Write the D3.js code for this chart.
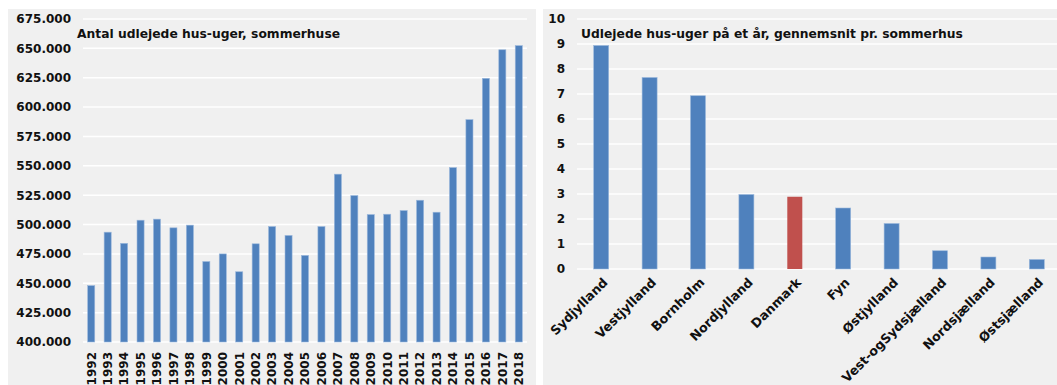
<!DOCTYPE html>
<html>
<head>
<meta charset="utf-8">
<script src="https://cdn.jsdelivr.net/npm/d3@7"></script>
<style>
  body { margin: 0; background: #ffffff; }
  svg text { font-family: "DejaVu Sans", Verdana, sans-serif; font-weight: bold; fill: #111; }
</style>
</head>
<body>
<div class="container"></div>
<script>
// left chart: rented house-weeks per year
const years = ["1992","1993","1994","1995","1996","1997","1998","1999","2000","2001","2002","2003","2004","2005","2006","2007","2008","2009","2010","2011","2012","2013","2014","2015","2016","2017","2018"];
const weeks = [448000,493500,484000,503700,504600,497200,499500,468500,475000,459800,483600,498300,490700,473700,498300,542900,524700,508500,508800,511900,520700,510500,548500,589300,624500,648800,652300];
const leftTicks = [400000,425000,450000,475000,500000,525000,550000,575000,600000,625000,650000,675000];

// right chart: average weeks per summer house by region
const regions = ["Sydjylland","Vestjylland","Bornholm","Nordjylland","Danmark","Fyn","Østjylland","Vest-ogSydsjælland","Nordsjælland","Østsjælland"];
const avgWeeks = [8.94,7.66,6.93,2.98,2.89,2.44,1.82,0.73,0.48,0.38];
const rightTicks = [0,1,2,3,4,5,6,7,8,9,10];

const width = 1057;
const height = 385;
const blue = "#4f81bd";
const red = "#c0504d";

const svg = d3.select("div.container")
    .append("svg")
    .attr("width", width)
    .attr("height", height);

const fmt = d3.formatLocale({decimal: ",", thousands: ".", grouping: [3], currency: ["", ""]}).format(",");

// ---- left panel
svg.append("rect").attr("x", 8).attr("y", 9).attr("width", 528).attr("height", 376).attr("fill", "#f0f0f0");

const xL = d3.scaleBand().domain(years).range([83, 527]).paddingInner(0.57).paddingOuter(0.285);
const yL = d3.scaleLinear().domain([400000, 675000]).range([342, 19]);

const gL = svg.append("g");
gL.selectAll("line.grid")
    .data(leftTicks)
    .enter()
    .append("line")
    .attr("x1", 83).attr("x2", 527)
    .attr("y1", d => yL(d)).attr("y2", d => yL(d))
    .attr("stroke", "#ffffff").attr("stroke-width", 1.5);

gL.selectAll("text.ytick")
    .data(leftTicks)
    .enter()
    .append("text")
    .attr("x", 71)
    .attr("y", d => yL(d))
    .attr("dy", "0.36em")
    .attr("text-anchor", "end")
    .style("font-size", "12px")
    .text(d => fmt(d));

gL.selectAll("rect.bar")
    .data(weeks)
    .enter()
    .append("rect")
    .attr("x", (d, i) => xL(years[i]))
    .attr("y", d => yL(d))
    .attr("width", xL.bandwidth())
    .attr("height", d => yL(400000) - yL(d))
    .attr("fill", blue)
    .attr("stroke", "#9bb8dc").attr("stroke-width", 0.6);

gL.selectAll("text.xtick")
    .data(years)
    .enter()
    .append("text")
    .attr("transform", d => `translate(${xL(d) + xL.bandwidth() / 2},352) rotate(-90)`)
    .attr("dy", "0.36em")
    .attr("text-anchor", "end")
    .style("font-size", "12px")
    .text(d => d);

gL.append("text").attr("x", 77).attr("y", 38).style("font-size", "12.3px")
    .text("Antal udlejede hus-uger, sommerhuse");

// ---- right panel
svg.append("rect").attr("x", 543).attr("y", 9).attr("width", 514).attr("height", 376).attr("fill", "#f0f0f0");

const xR = d3.scaleBand().domain(regions).range([577, 1061]).paddingInner(0.69).paddingOuter(0.345);
const yR = d3.scaleLinear().domain([0, 10]).range([269, 19]);

const gR = svg.append("g");
gR.selectAll("line.grid")
    .data(rightTicks)
    .enter()
    .append("line")
    .attr("x1", 577).attr("x2", 1057)
    .attr("y1", d => yR(d)).attr("y2", d => yR(d))
    .attr("stroke", "#ffffff").attr("stroke-width", 1.5);

gR.selectAll("text.ytick")
    .data(rightTicks)
    .enter()
    .append("text")
    .attr("x", 565)
    .attr("y", d => yR(d))
    .attr("dy", "0.36em")
    .attr("text-anchor", "end")
    .style("font-size", "12px")
    .text(d => d);

gR.selectAll("rect.bar")
    .data(avgWeeks)
    .enter()
    .append("rect")
    .attr("x", (d, i) => xR(regions[i]))
    .attr("y", d => yR(d))
    .attr("width", xR.bandwidth())
    .attr("height", d => yR(0) - yR(d))
    .attr("fill", (d, i) => regions[i] === "Danmark" ? red : blue)
    .attr("stroke", (d, i) => regions[i] === "Danmark" ? "none" : "#9bb8dc").attr("stroke-width", 0.6);

gR.selectAll("text.xtick")
    .data(regions)
    .enter()
    .append("text")
    .attr("transform", d => `translate(${xR(d) + xR.bandwidth() / 2 + 4},280) rotate(-45)`)
    .attr("dy", "0.36em")
    .attr("text-anchor", "end")
    .style("font-size", "12.7px")
    .text(d => d);

gR.append("text").attr("x", 581).attr("y", 38).style("font-size", "12.3px")
    .text("Udlejede hus-uger på et år, gennemsnit pr. sommerhus");
</script>
</body>
</html>
